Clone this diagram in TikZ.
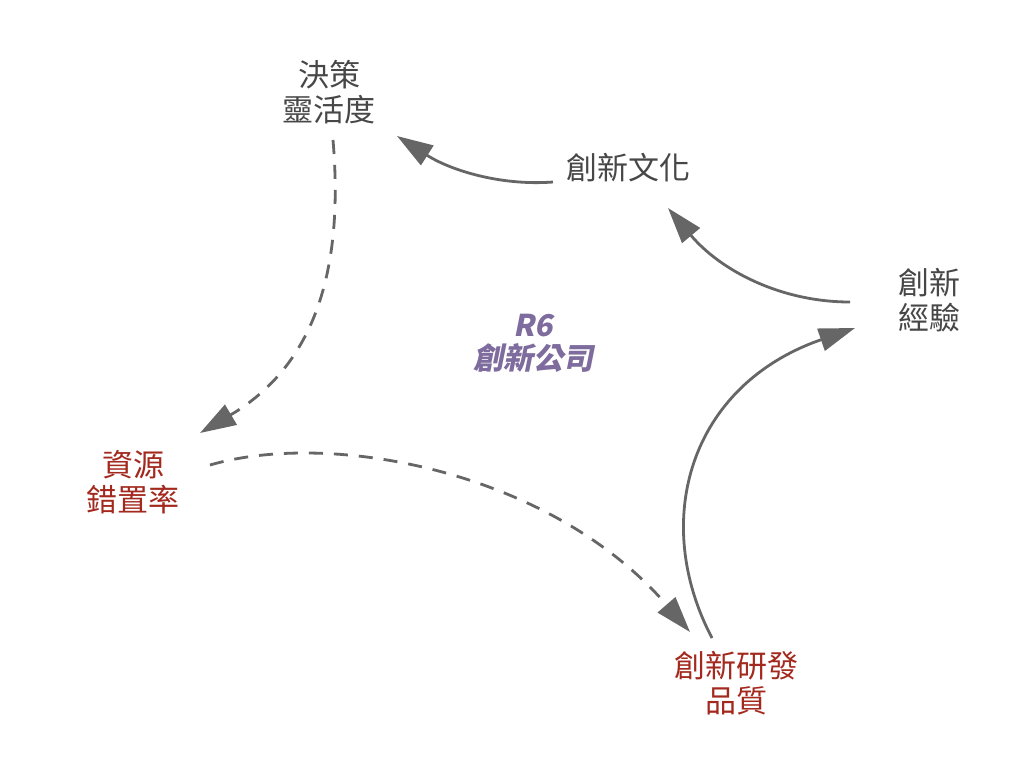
\documentclass[tikz,border=0pt]{standalone}
\usepackage{fontspec}
\usetikzlibrary{arrows.meta}
\newfontfamily\cjk{Noto Sans CJK TC}
\newfontfamily\cjkslant[FakeSlant=0.2]{Noto Sans CJK TC}
\definecolor{txtgray}{HTML}{474747}
\definecolor{txtred}{HTML}{A3291E}
\definecolor{txtpurple}{HTML}{7D6C9D}
\definecolor{arrgray}{HTML}{666666}
\tikzset{
  var/.style={font=\cjk\fontsize{31}{35}\selectfont, align=center, inner sep=0pt, text=txtgray},
  redvar/.style={var, text=txtred},
  looplabel/.style={font=\cjkslant\bfseries\fontsize{30}{33}\selectfont, align=center, inner sep=0pt, text=txtpurple},
  link/.style={draw=arrgray, line width=2.8pt, -{Triangle[length=36pt, width=23pt]}},
  dlink/.style={link, dash pattern=on 14pt off 11pt},
}
\begin{document}
\begin{tikzpicture}[x=1pt, y=-1pt]
\useasboundingbox[fill=white] (0,0) rectangle (1022,758);
\node[var] (jc) at (329,92) {決策\\靈活度};
\node[var] (wh) at (628,168) {創新文化};
\node[var] (jy) at (929,300) {創新\\經驗};
\node[redvar] (zy) at (133,482) {資源\\錯置率};
\node[redvar] (yf) at (736,683) {創新研發\\品質};
\node[looplabel] (r6) at (533,343) {R6\\創新公司};
\coordinate (whs) at (553,182);
\coordinate (jce) at (397,136);
\coordinate (jys) at (850,302);
\coordinate (whe) at (668,208);
\coordinate (yfs) at (712,638);
\coordinate (jye) at (855,328);
\coordinate (jcs) at (333,140);
\coordinate (zye) at (200,433);
\coordinate (zys) at (210,465);
\coordinate (yfe) at (690,632);
\draw[link] (whs) .. controls (500,186) and (450,170) .. (jce);
\draw[link] (jys) .. controls (780,302) and (720,270) .. (whe);
\draw[link] (yfs) .. controls (650,520) and (690,385) .. (jye);
\draw[dlink] (jcs) .. controls (344,270) and (315,365) .. (zye);
\draw[dlink] (zys) .. controls (330,430) and (550,470) .. (yfe);
\end{tikzpicture}
\end{document}
